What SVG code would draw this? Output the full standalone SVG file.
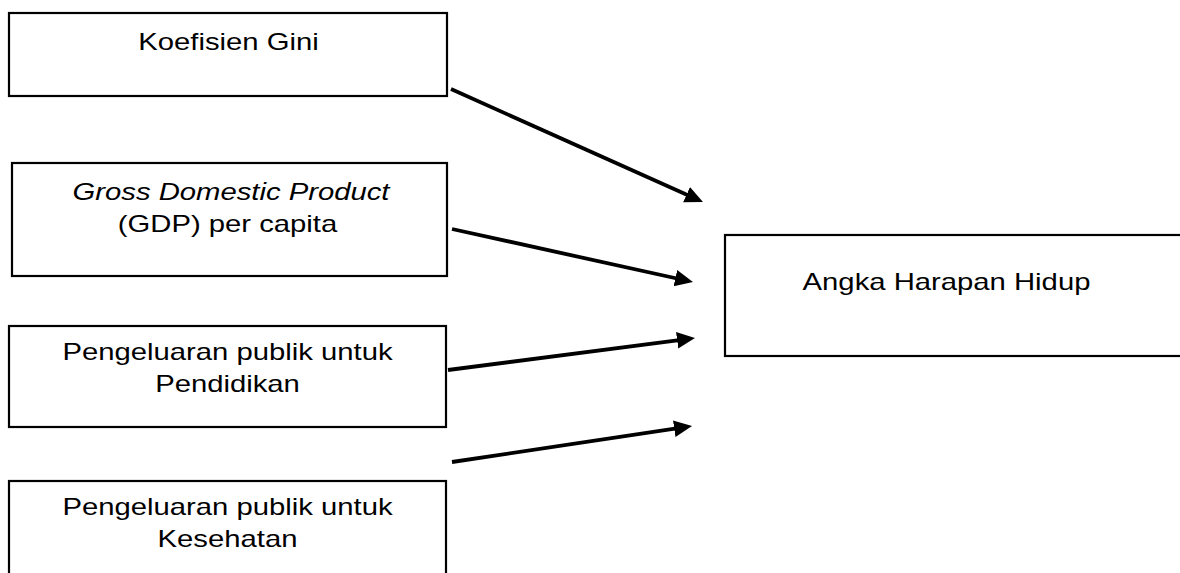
<svg xmlns="http://www.w3.org/2000/svg" width="1180" height="573" viewBox="0 0 1180 573">
  <style>
    .box { fill: #ffffff; stroke: #000000; stroke-width: 2.2; }
    .lbl { font-family: "Liberation Sans", Arial, sans-serif; font-size: 23.8px; fill: #000000; text-anchor: middle; }
    .it { font-style: italic; }
    .edge { stroke: #000000; stroke-width: 3.8; fill: none; marker-end: url(#head); }
  </style>
  <defs>
    <marker id="head" markerUnits="userSpaceOnUse" markerWidth="22" markerHeight="20" refX="4" refY="0" viewBox="0 -10 22 20" orient="auto">
      <path d="M0,-8.3 L18,0 L0,8.3 z" fill="#000000"/>
    </marker>
  </defs>
  <rect width="1180" height="573" fill="#ffffff"/>

  <g id="gini">
    <rect class="box" x="9" y="13" width="438" height="83"/>
    <text class="lbl" transform="translate(228.5,50) scale(1.23,1)">Koefisien Gini</text>
  </g>

  <g id="gdp">
    <rect class="box" x="12" y="163" width="435" height="113"/>
    <text class="lbl it" transform="translate(231,200) scale(1.23,1)">Gross Domestic Product</text>
    <text class="lbl" transform="translate(227.5,232) scale(1.23,1)">(GDP) per capita</text>
  </g>

  <g id="pendidikan">
    <rect class="box" x="9" y="326" width="437" height="101"/>
    <text class="lbl" transform="translate(227.5,360) scale(1.23,1)">Pengeluaran publik untuk</text>
    <text class="lbl" transform="translate(227.5,392) scale(1.23,1)">Pendidikan</text>
  </g>

  <g id="kesehatan">
    <rect class="box" x="9" y="481" width="437" height="110"/>
    <text class="lbl" transform="translate(227.5,515) scale(1.23,1)">Pengeluaran publik untuk</text>
    <text class="lbl" transform="translate(227.5,547) scale(1.23,1)">Kesehatan</text>
  </g>

  <g id="harapan-hidup">
    <rect class="box" x="725" y="235" width="470" height="121"/>
    <text class="lbl" transform="translate(946.5,290) scale(1.23,1)">Angka Harapan Hidup</text>
  </g>

  <g id="connectors">
    <line class="edge" x1="451" y1="89" x2="690.2" y2="196.3"/>
    <line class="edge" x1="452" y1="229" x2="679.3" y2="279"/>
    <line class="edge" x1="448" y1="370" x2="681.1" y2="339.8"/>
    <line class="edge" x1="452" y1="462" x2="678.2" y2="428.1"/>
  </g>
</svg>
